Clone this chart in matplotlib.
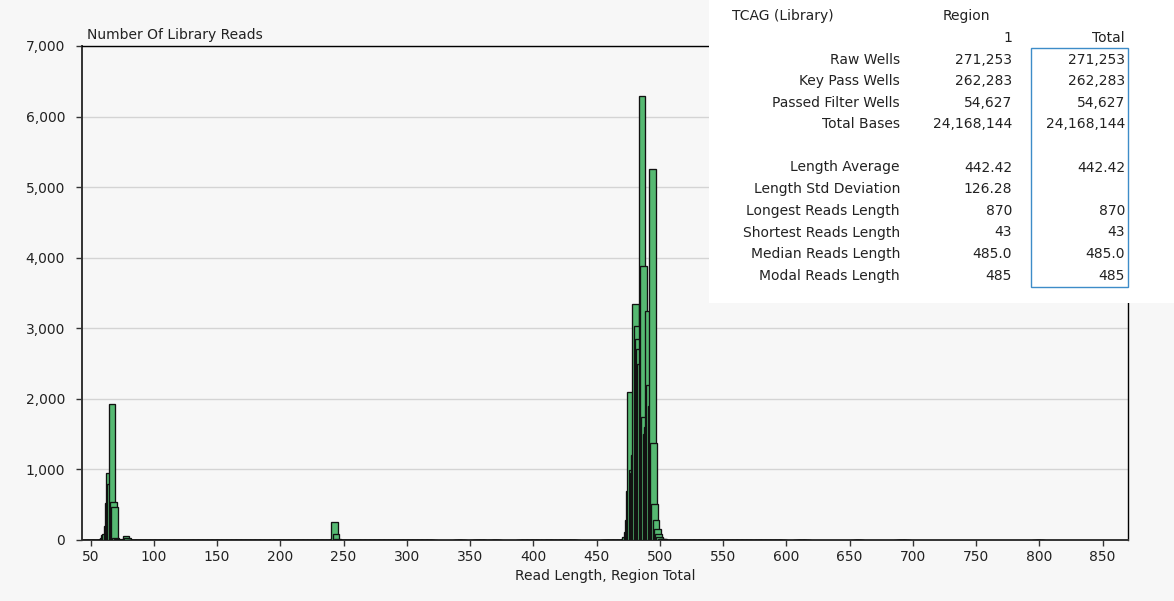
import numpy as np
import matplotlib
matplotlib.use("Agg")
import matplotlib.pyplot as plt
from matplotlib.patches import Rectangle
from matplotlib.ticker import FuncFormatter

plt.rcParams['font.family'] = ['DejaVu Sans']

# read counts per length (main peaks)
peak_lengths = [58, 59, 60, 61, 62, 63, 64, 65, 66, 67, 68, 69, 70, 76, 77, 78,
                241, 242, 243, 244,
                471, 472, 473, 474, 475, 476, 477, 478, 479, 480, 481, 482, 483,
                484, 485, 486, 487, 488, 489, 490, 491, 492, 493, 494, 495, 496,
                497, 498, 499, 500, 501, 502]
peak_counts = [15, 25, 70, 80, 200, 520, 950, 800, 1922, 543, 472, 30, 10, 20, 60, 30,
               10, 260, 80, 10,
               20, 40, 120, 283, 700, 2101, 990, 950, 1200, 3343, 3035, 2850, 2700,
               2500, 6290, 3885, 1747, 1500, 1600, 3244, 2200, 1900, 5255, 1378, 510, 283,
               156, 85, 40, 20, 12, 8]

# stretches of lengths with only a handful of reads
sparse_ranges = [(43, 57), (71, 75), (79, 240), (245, 320), (338, 344), (352, 362),
                 (366, 372), (388, 405), (407, 416), (418, 433), (454, 470),
                 (503, 573), (575, 597), (607, 616), (653, 658), (687, 695), (796, 801)]
sparse_count = 6

yticks = [0, 1000, 2000, 3000, 4000, 5000, 6000, 7000]
xticks = list(range(50, 851, 50))

row_labels = ["Raw Wells", "Key Pass Wells", "Passed Filter Wells", "Total Bases", "",
              "Length Average", "Length Std Deviation", "Longest Reads Length",
              "Shortest Reads Length", "Median Reads Length", "Modal Reads Length"]
region1 = ["271,253", "262,283", "54,627", "24,168,144", "",
           "442.42", "126.28", "870", "43", "485.0", "485"]
total = ["271,253", "262,283", "54,627", "24,168,144", "",
         "442.42", "", "870", "43", "485.0", "485"]

lengths = []
counts = []
for a, b in sparse_ranges:
    for L in range(a, b + 1):
        lengths.append(L)
        counts.append(sparse_count)
lengths += peak_lengths
counts += peak_counts
order = np.argsort(lengths, kind="stable")
lengths = np.array(lengths)[order]
counts = np.array(counts)[order]

bg = "#f7f7f7"
fig = plt.figure(figsize=(11.74, 6.01), dpi=100, facecolor=bg)
ax = fig.add_axes([0.0696, 0.1015, 0.8912, 0.822], facecolor=bg)

ax.bar(lengths - 1.7, counts, width=5.3, align="edge", color="#56b972",
       edgecolor="#111111", linewidth=0.95, zorder=3)

ax.set_xlim(43, 870)
ax.set_ylim(0, 7000)
ax.set_yticks(yticks)
ax.set_xticks(xticks)
ax.yaxis.set_major_formatter(FuncFormatter(lambda v, p: f"{int(v):,}"))
ax.grid(axis="y", color="#d4d4d4", linewidth=1, zorder=0)
ax.tick_params(axis="both", labelsize=10, length=4, width=1, color="#333333",
               labelcolor="#222222")
ax.tick_params(axis="y", pad=8)
ax.tick_params(axis="x", pad=3)
for s in ["top", "right"]:
    ax.spines[s].set_color("black")
    ax.spines[s].set_linewidth(1)
for s in ["left", "bottom"]:
    ax.spines[s].set_color("#333333")
    ax.spines[s].set_linewidth(1.4)

ax.set_xlabel("Read Length, Region Total", fontsize=10, labelpad=4, color="#222222")
fig.text(87 / 1174, 1 - 35 / 601, "Number Of Library Reads", fontsize=10,
         ha="left", va="center", color="#222222")

# statistics panel
W, H = 1174, 601
fig.add_artist(Rectangle((709 / W, 1 - 303 / H), (W - 709) / W, 303 / H,
                         transform=fig.transFigure, facecolor="white",
                         edgecolor="none", zorder=5))
fig.add_artist(Rectangle((1031 / W, 1 - 287 / H), 97 / W, 239 / H,
                         transform=fig.transFigure, facecolor="none",
                         edgecolor="#3d8cc8", linewidth=1, zorder=6))

def ft(x, y, s, ha):
    fig.text(x / W, 1 - y / H, s, fontsize=10, ha=ha, va="center", zorder=7,
             color="#222222")

ft(732, 16, "TCAG (Library)", "left")
ft(943, 16, "Region", "left")
ft(1012, 38, "1", "right")
ft(1125, 38, "Total", "right")
row_y = [60, 81, 103, 124.5, 146, 167.5, 189, 211, 232.5, 254, 276]
for y, lab, r1, tt in zip(row_y, row_labels, region1, total):
    ft(900, y, lab, "right")
    ft(1012, y, r1, "right")
    ft(1125, y, tt, "right")

fig.savefig("out.png", dpi=100, facecolor=bg)
